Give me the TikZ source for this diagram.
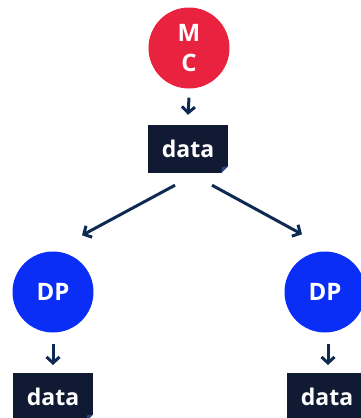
\documentclass[tikz,border=0pt]{standalone}
\usepackage{fontspec}
\setmainfont{Open Sans}
\usetikzlibrary{arrows.meta}
\definecolor{mcred}{HTML}{E8223F}
\definecolor{dpblue}{HTML}{0B2EF6}
\definecolor{navy}{HTML}{101B33}
\definecolor{arrownavy}{HTML}{0E2A52}
\definecolor{foldc}{HTML}{2A4A80}
\tikzset{
  circ/.style={circle, minimum size=81pt, inner sep=0pt, text=white, font=\fontsize{24}{30}\selectfont\bfseries, align=center},
  databox/.style={rectangle, fill=navy, text=white, minimum width=80pt, minimum height=48pt, inner sep=0pt, font=\fontsize{23}{26}\selectfont\bfseries},
  conn/.style={draw=arrownavy, line width=3pt, -{Straight Barb[length=6pt,width=13pt,line width=3pt]}},
}
\begin{document}
\begin{tikzpicture}[x=1pt,y=-1pt]
\useasboundingbox (0,0) rectangle (361,418);
\clip (0,0) rectangle (361,418);
\node[circ, fill=mcred] (mc) at (189,48) {M\\C};
\node[databox] (d0) at (188,149) {data};
\node[circ, fill=dpblue] (dpl) at (53,292) {DP};
\node[circ, fill=dpblue] (dpr) at (325,292) {DP};
\node[databox, anchor=north] (dl) at (53,373) {data};
\node[databox, anchor=north] (dr) at (327,373) {data};
% folded corners
\foreach \b in {d0,dl,dr}{
  \fill[white] (\b.south east) -- ++(-7,0) -- ++(7,-7) -- cycle;
  \fill[foldc] ([xshift=-7pt]\b.south east) -- ++(7,-7) -- ++(-6,1) -- cycle;
}
\draw[conn] ([shift={(0,9)}]mc.south) -- ([shift={(0,-10)}]d0.north);
\draw[conn] ([shift={(-13,12)}]d0.south) -- ([shift={(29,-16)}]dpl.north);
\draw[conn] ([shift={(24,12)}]d0.south) -- ([shift={(-23,-17)}]dpr.north);
\draw[conn] ([shift={(0,11)}]dpl.south) -- ([shift={(0,-8)}]dl.north);
\draw[conn] ([shift={(3,11)}]dpr.south) -- ([shift={(1,-8)}]dr.north);
\end{tikzpicture}
\end{document}
